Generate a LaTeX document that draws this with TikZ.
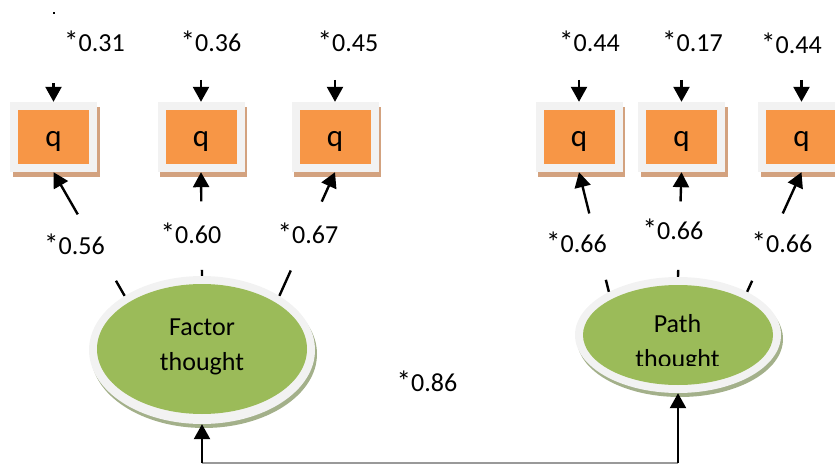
\documentclass[tikz,border=0pt]{standalone}
\usepackage{fontspec}
\setmainfont{Carlito}
\usetikzlibrary{shapes.geometric,shadows,arrows.meta,calc}
\definecolor{qorange}{HTML}{F79646}
\definecolor{lgreen}{HTML}{9BBB59}
\definecolor{framegray}{HTML}{F2F2F2}
\definecolor{boxshadow}{HTML}{D3A27F}
\definecolor{ellshadow}{HTML}{A3B08A}
% a slightly larger asterisk for the significance marks
\newcommand\sigmark{\smash{\fontsize{29}{35}\selectfont *}}
\begin{document}
\begin{tikzpicture}[x=1pt,y=-1pt,
  txt/.style={font=\fontsize{26}{35}\selectfont, inner sep=0pt},
  frame/.style={rectangle, fill=framegray, minimum width=87pt, minimum height=70pt, inner sep=0pt,
    general shadow={fill=boxshadow, shadow xshift=2.5pt, shadow yshift=-5pt}},
  qbox/.style={rectangle, fill=qorange, minimum width=71pt, minimum height=54pt, inner sep=0pt,
    font=\fontsize{31}{35}\selectfont, text height=19.4pt, text depth=0pt},
  ellframe/.style={ellipse, fill=framegray, inner sep=0pt,
    general shadow={fill=ellshadow, shadow xshift=2pt, shadow yshift=-4pt}},
  ellin/.style={ellipse, fill=lgreen, inner sep=0pt},
  link/.style={line width=2.4pt},
  arr/.style={link, -{Triangle[width=16pt,length=15pt]}}
]
\useasboundingbox (0,0) rectangle (835,465);

% indicator boxes
\foreach \n/\x in {1/53.5, 2/201, 3/335, 4/579, 5/681.5, 6/801.5}{
  \node[frame] (b\n) at (\x,137) {};
  \node[qbox] (q\n) at (\x,137) {q};
}

% latent factors
\node[ellframe, minimum width=226pt, minimum height=148pt] (f) at (202,350) {};
\node[ellin, minimum width=210pt, minimum height=130pt] (fin) at (202,349) {};
\node[txt, align=center, anchor=north] (ftext) at (202,318.6) {Factor\\thought};

\node[ellframe, minimum width=206pt, minimum height=116pt] (p) at (678,335) {};
\node[ellin, minimum width=190pt, minimum height=100pt] (pin) at (678,335) {};
\begin{scope}
  \clip (560,250) rectangle (800,365);
  \node[txt, align=center, anchor=north] (ptext) at (677.5,314.3) {Path\\thought};
\end{scope}

% error terms
\foreach \n/\x/\s in {1/53.5/83, 2/201/80, 3/335/80, 4/579/80, 5/681.5/80, 6/801.5/80}{
  \coordinate (t\n) at (\x,\s);
  \draw[arr] (t\n) -- (b\n.north);
}
\node[txt] (e1) at (94.5,43) {\sigmark0.31};
\node[txt] (e2) at (211,43) {\sigmark0.36};
\node[txt] (e3) at (348,43) {\sigmark0.45};
\node[txt] (e4) at (589.5,43) {\sigmark0.44};
\node[txt] (e5) at (692.5,43) {\sigmark0.17};
\node[txt] (e6) at (791.5,45.5) {\sigmark0.44};
\fill (52.8,11.8) rectangle (55.2,14.2);

% loadings (line broken around the coefficient)
\coordinate (a1) at (f.145);
\coordinate (a2) at (f.north);
\coordinate (a3) at (f.35);
\coordinate (a4) at (p.148);
\coordinate (a5) at (p.north);
\coordinate (a6) at (p.32);
\foreach \n/\lo/\hi in {1/0.122/0.659, 2/0.058/0.718, 3/0.205/0.762,
                        4/0.10/0.655, 5/0.067/0.72, 6/0.092/0.655}{
  \draw[link] (a\n) -- ($(a\n)!\lo!(b\n.south)$);
  \draw[arr] ($(a\n)!\hi!(b\n.south)$) -- (b\n.south);
}
\node[txt] (l1) at (74.5,246) {\sigmark0.56};
\node[txt] (l2) at (191,235) {\sigmark0.60};
\node[txt] (l3) at (308,235) {\sigmark0.67};
\node[txt] (l4) at (576.5,244) {\sigmark0.66};
\node[txt] (l5) at (673,231) {\sigmark0.66};
\node[txt] (l6) at (782,244) {\sigmark0.66};

% correlation between the factors
\coordinate (c1) at (202,463);
\coordinate (c2) at (678,463);
\draw[gray!80, line width=1.2pt] (c1) -- (c2);
\draw[arr] (c1) -- (f.south);
\draw[arr] (c2) -- (p.south);
\node[txt] (r) at (427,383) {\sigmark0.86};
\end{tikzpicture}
\end{document}
